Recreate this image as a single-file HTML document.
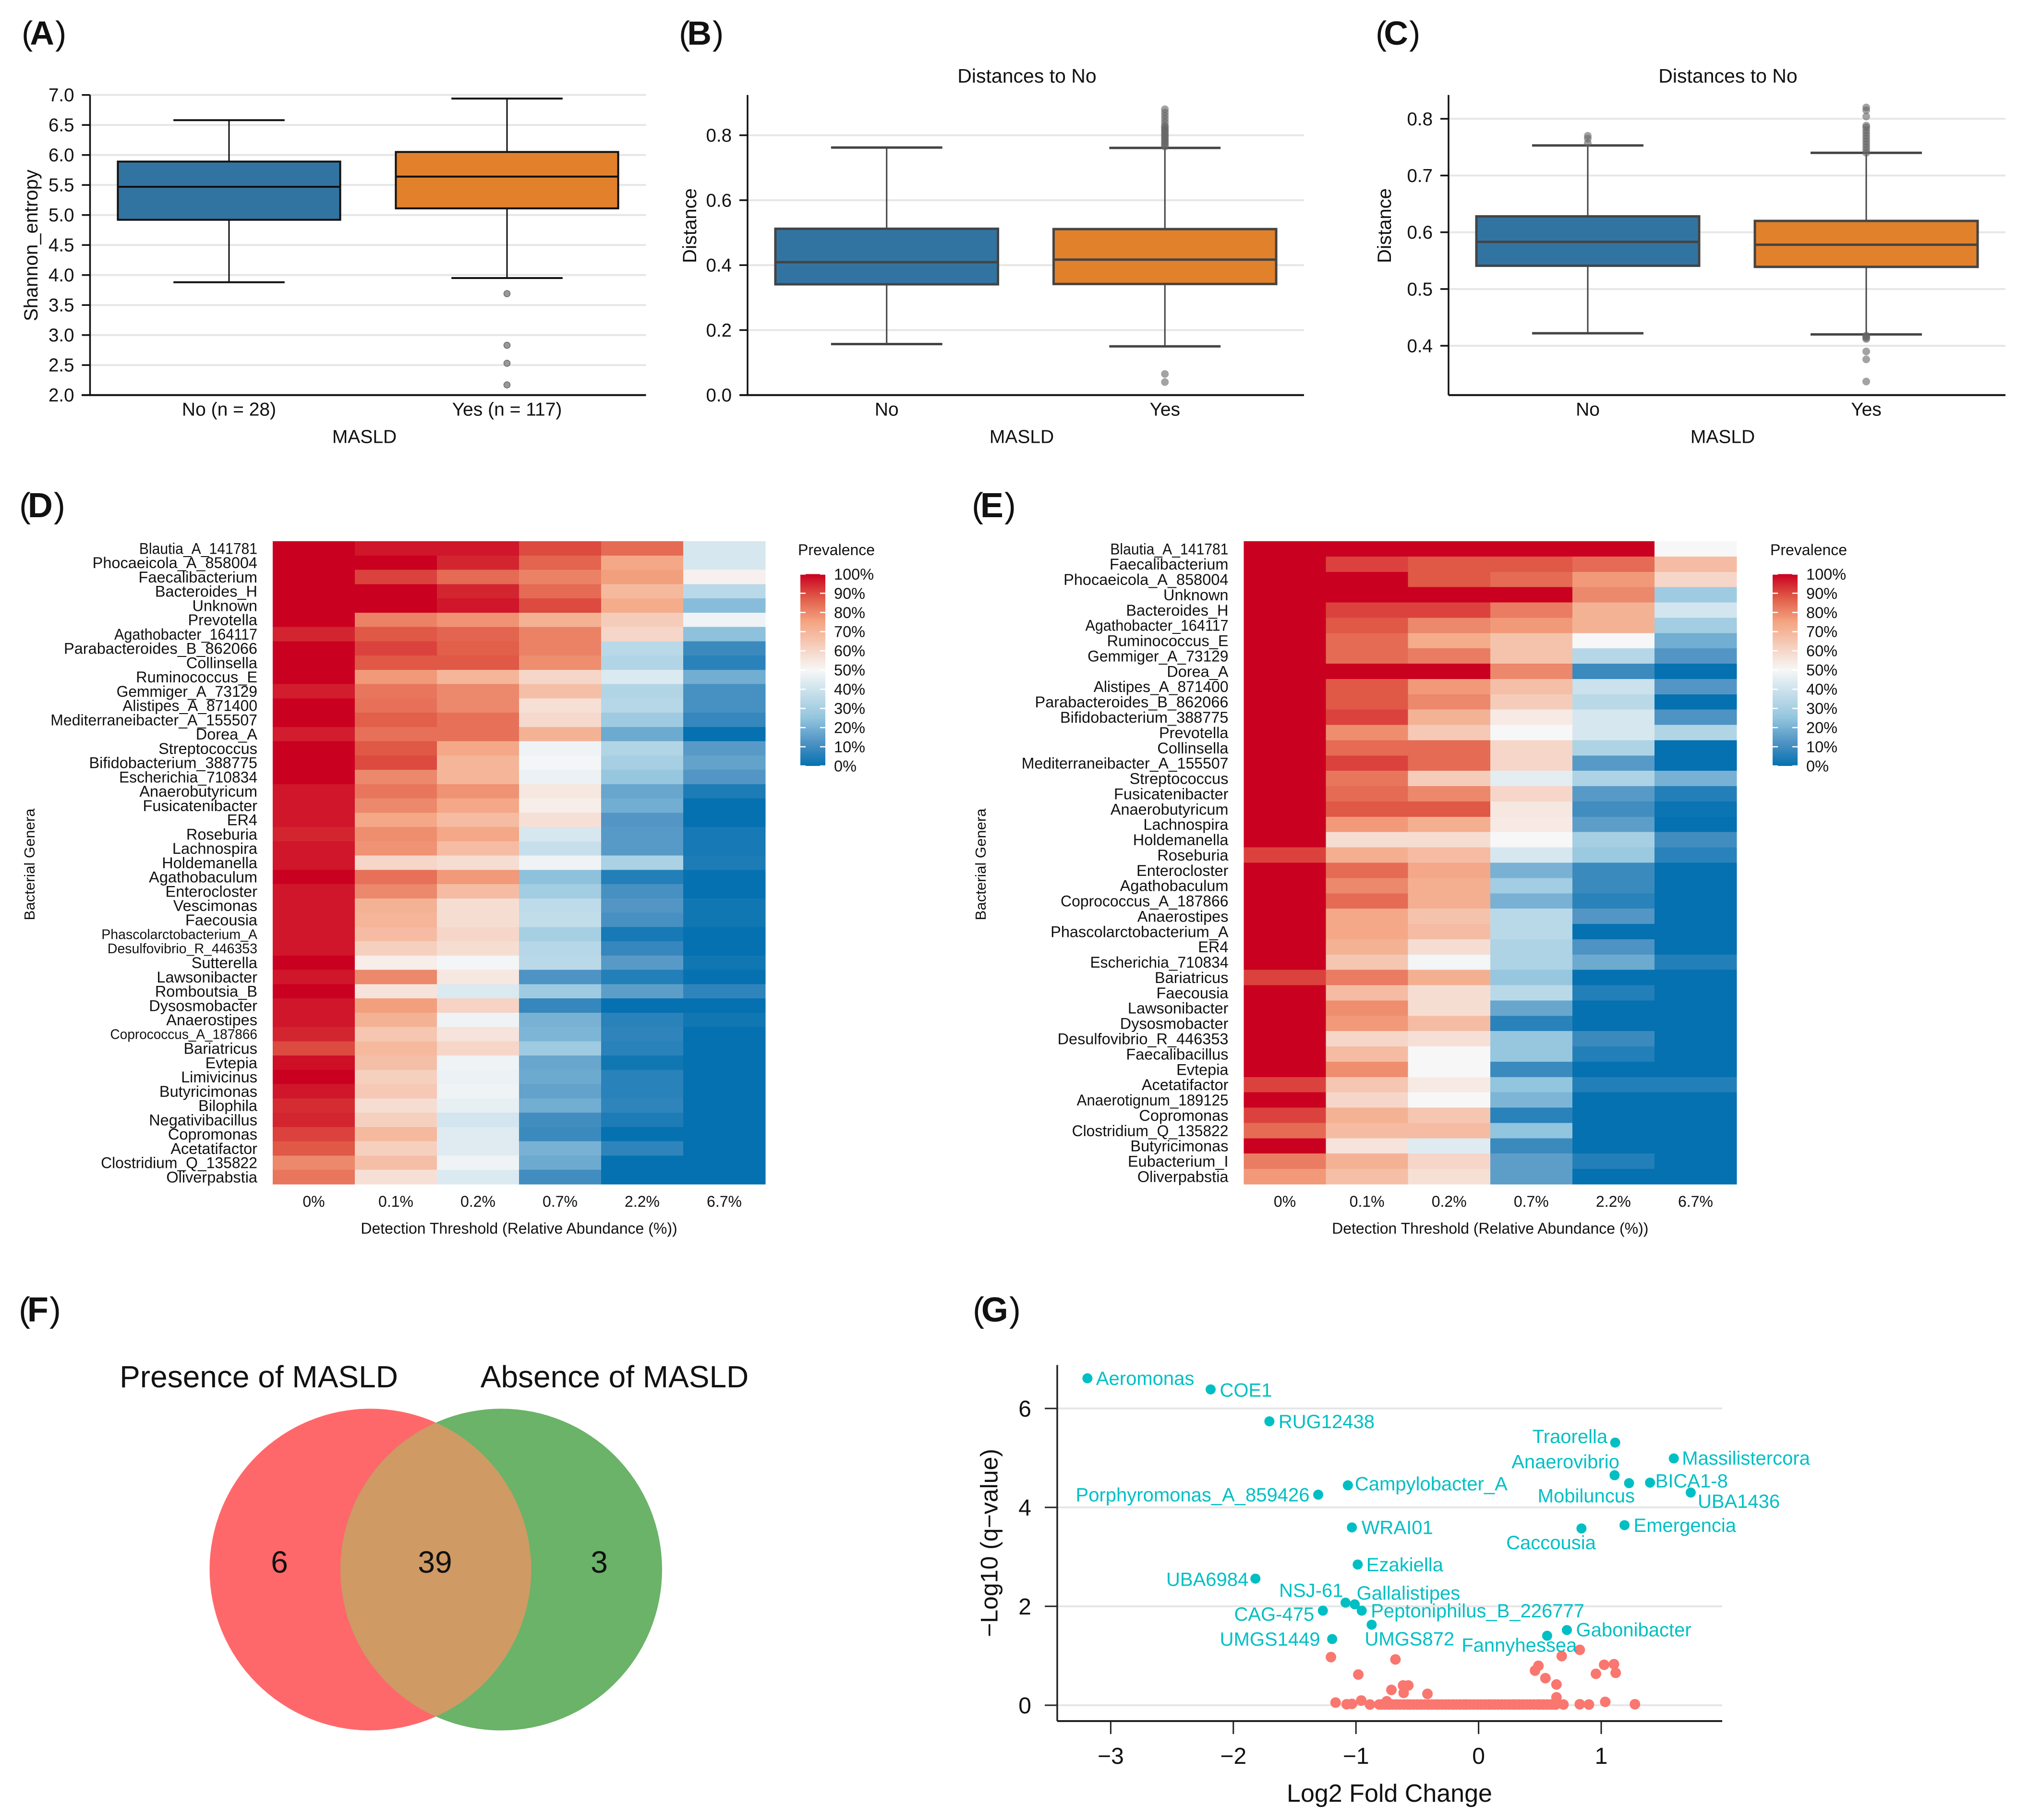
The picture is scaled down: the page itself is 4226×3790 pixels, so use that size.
<!DOCTYPE html>
<html lang="en">
<head>
<meta charset="utf-8">
<title>MASLD microbiome figure</title>
<style>
html,body{margin:0;padding:0;background:#fff;}
svg{display:block;}
text{font-family:"Liberation Sans",sans-serif;fill:#111;}
</style>
</head>
<body>
<svg id="figure" xmlns="http://www.w3.org/2000/svg" width="4226" height="3790" viewBox="0 0 4226 3790">
  <defs>
    <linearGradient id="prevalenceGradient" x1="0" y1="0" x2="0" y2="1">
      <stop offset="0" stop-color="#ca0020"/>
      <stop offset="0.125" stop-color="#e15c48"/>
      <stop offset="0.25" stop-color="#f4a582"/>
      <stop offset="0.5" stop-color="#f7f7f7"/>
      <stop offset="0.75" stop-color="#92c5de"/>
      <stop offset="0.875" stop-color="#5094c4"/>
      <stop offset="1" stop-color="#0571b0"/>
    </linearGradient>
  </defs>
  <rect width="4226" height="3790" fill="#fff"/>
  <g id="panels"></g>
  <g id="venn">
    <circle cx="771.5" cy="3268.5" r="335" fill="#ff686a"/>
    <circle cx="1044" cy="3268.5" r="335" fill="#6ab368"/>
    <path d="M907.75 2962.5A335 335 0 0 1 907.75 3574.5A335 335 0 0 1 907.75 2962.5Z" fill="#cf9a64"/>
    <text x="539" y="2889" font-size="64" text-anchor="middle">Presence of MASLD</text>
    <text x="1280" y="2889" font-size="64" text-anchor="middle">Absence of MASLD</text>
    <text x="582" y="3275" font-size="64" text-anchor="middle">6</text>
    <text x="906" y="3275" font-size="64" text-anchor="middle">39</text>
    <text x="1248" y="3275" font-size="64" text-anchor="middle">3</text>
  </g>
</svg>
<script>
/* ---------- Panel A data ---------- */
const panelACategories = ['No (n = 28)', 'Yes (n = 117)'];
const panelATicks = [2, 2.5, 3, 3.5, 4, 4.5, 5, 5.5, 6, 6.5, 7];
const panelAQ1 = [4.92, 5.11];
const panelAMedian = [5.47, 5.64];
const panelAQ3 = [5.89, 6.05];
const panelAWhiskerLow = [3.88, 3.95];
const panelAWhiskerHigh = [6.58, 6.94];
const panelAOutliers = [[], [3.69, 2.83, 2.53, 2.17]];

/* ---------- Panel B data ---------- */
const panelBCategories = ['No', 'Yes'];
const panelBTicks = [0, 0.2, 0.4, 0.6, 0.8];
const panelBQ1 = [0.341, 0.342];
const panelBMedian = [0.409, 0.417];
const panelBQ3 = [0.512, 0.511];
const panelBWhiskerLow = [0.157, 0.15];
const panelBWhiskerHigh = [0.762, 0.761];
const panelBOutliers = [[], [0.065, 0.04, 0.765, 0.77, 0.775, 0.78, 0.785, 0.79, 0.795, 0.8, 0.805, 0.81, 0.815, 0.82, 0.825, 0.83, 0.84, 0.85, 0.86, 0.87, 0.88]];

/* ---------- Panel C data ---------- */
const panelCCategories = ['No', 'Yes'];
const panelCTicks = [0.4, 0.5, 0.6, 0.7, 0.8];
const panelCQ1 = [0.541, 0.539];
const panelCMedian = [0.583, 0.578];
const panelCQ3 = [0.628, 0.62];
const panelCWhiskerLow = [0.422, 0.42];
const panelCWhiskerHigh = [0.753, 0.74];
const panelCOutliers = [[0.757, 0.765, 0.77], [0.82, 0.815, 0.804, 0.788, 0.785, 0.78, 0.775, 0.77, 0.765, 0.76, 0.755, 0.75, 0.745, 0.74, 0.418, 0.416, 0.414, 0.412, 0.39, 0.376, 0.337]];

/* ---------- Heatmap data ---------- */
const heatThresholds = ['0%', '0.1%', '0.2%', '0.7%', '2.2%', '6.7%'];
const legendTickValues = [100, 90, 80, 70, 60, 50, 40, 30, 20, 10, 0];
const heatDGenera = ['Blautia_A_141781','Phocaeicola_A_858004','Faecalibacterium','Bacteroides_H','Unknown','Prevotella','Agathobacter_164117','Parabacteroides_B_862066','Collinsella','Ruminococcus_E','Gemmiger_A_73129','Alistipes_A_871400','Mediterraneibacter_A_155507','Dorea_A','Streptococcus','Bifidobacterium_388775','Escherichia_710834','Anaerobutyricum','Fusicatenibacter','ER4','Roseburia','Lachnospira','Holdemanella','Agathobaculum','Enterocloster','Vescimonas','Faecousia','Phascolarctobacterium_A','Desulfovibrio_R_446353','Sutterella','Lawsonibacter','Romboutsia_B','Dysosmobacter','Anaerostipes','Coprococcus_A_187866','Bariatricus','Evtepia','Limivicinus','Butyricimonas','Bilophila','Negativibacillus','Copromonas','Acetatifactor','Clostridium_Q_135822','Oliverpabstia'];
const heatDValues = [
[100,97,97,90,85,42],[100,100,95,86,74,42],[100,91,85,81,76,52],[100,100,95,85,69,35],[100,100,97,90,73,23],
[100,81,78,71,63,48],[95,88,86,81,60,24],[100,91,87,81,35,9],[100,88,88,79,33,6],[100,77,70,60,43,19],
[96,83,80,67,33,11],[100,84,80,57,34,11],[100,87,84,59,28,8],[96,84,84,71,18,0],[100,88,74,48,33,14],
[100,90,70,49,30,16],[100,80,70,47,26,13],[97,83,78,55,17,4],[97,80,74,53,19,0],[97,74,68,57,13,0],
[95,79,74,42,14,3],[97,78,68,38,14,3],[97,60,58,48,31,4],[100,84,77,24,5,0],[97,80,68,29,11,0],
[97,71,58,36,13,2],[97,70,58,37,11,2],[97,68,60,30,3,0],[97,62,58,34,8,0],[100,53,49,35,14,2],
[97,80,55,12,5,0],[100,56,43,28,15,7],[97,76,61,8,0,0],[97,71,48,20,6,2],[95,65,56,21,7,0],
[90,69,60,28,6,0],[98,67,48,17,2,0],[100,62,47,18,6,0],[97,64,48,16,6,0],[94,58,46,19,7,0],
[95,62,41,10,4,0],[91,69,44,9,0,0],[88,62,44,20,7,0],[80,67,48,18,0,0],[83,57,43,10,0,0]
];
const heatEGenera = ['Blautia_A_141781','Faecalibacterium','Phocaeicola_A_858004','Unknown','Bacteroides_H','Agathobacter_164117','Ruminococcus_E','Gemmiger_A_73129','Dorea_A','Alistipes_A_871400','Parabacteroides_B_862066','Bifidobacterium_388775','Prevotella','Collinsella','Mediterraneibacter_A_155507','Streptococcus','Fusicatenibacter','Anaerobutyricum','Lachnospira','Holdemanella','Roseburia','Enterocloster','Agathobaculum','Coprococcus_A_187866','Anaerostipes','Phascolarctobacterium_A','ER4','Escherichia_710834','Bariatricus','Faecousia','Lawsonibacter','Dysosmobacter','Desulfovibrio_R_446353','Faecalibacillus','Evtepia','Acetatifactor','Anaerotignum_189125','Copromonas','Clostridium_Q_135822','Butyricimonas','Eubacterium_I','Oliverpabstia'];
const heatEValues = [
[100,100,100,100,100,50],[100,91,88,88,85,68],[100,100,88,85,77,60],[100,100,100,100,80,28],[100,91,91,82,71,41],
[100,88,80,77,71,29],[100,85,73,66,50,19],[100,85,82,66,34,13],[100,100,100,80,9,0],[100,88,77,67,39,13],
[100,88,80,63,35,0],[100,91,71,54,42,12],[100,79,64,50,42,33],[100,85,85,60,32,0],[100,91,85,60,14,0],
[100,83,63,45,32,20],[100,85,80,60,14,5],[100,88,88,55,10,1],[100,77,72,54,15,0],[100,58,58,50,30,10],
[91,72,68,42,27,6],[100,85,74,20,9,0],[100,80,72,29,9,0],[100,85,72,20,6,0],[100,74,66,35,13,0],
[100,74,68,35,0,0],[100,71,58,32,12,0],[100,65,49,32,18,5],[91,82,72,26,0,0],[100,68,58,35,5,0],
[100,79,58,17,0,0],[100,77,68,6,0,0],[100,60,57,26,9,0],[100,68,50,26,5,0],[100,79,50,9,0,0],
[91,65,54,25,5,5],[100,60,50,21,0,0],[91,71,65,6,0,0],[85,68,68,25,0,0],[100,56,44,9,0,0],
[82,71,60,15,5,0],[77,67,57,15,0,0]
];

/* ---------- Volcano data ---------- */
const volcanoXTicks = [-3, -2, -1, 0, 1];
const volcanoYTicks = [0, 2, 4, 6];
const sigNames = ['Aeromonas','COE1','RUG12438','Traorella','Massilistercora','Anaerovibrio','Mobiluncus','BICA1-8','UBA1436','Campylobacter_A','Porphyromonas_A_859426','WRAI01','Caccousia','Emergencia','Ezakiella','UBA6984','NSJ-61','Gallalistipes','Peptoniphilus_B_226777','CAG-475','UMGS872','UMGS1449','Fannyhessea','Gabonibacter'];
const sigFoldChange = [-3.19,-2.185,-1.706,1.114,1.592,1.109,1.227,1.398,1.73,-1.066,-1.308,-1.033,0.839,1.19,-0.986,-1.82,-1.085,-1.01,-0.953,-1.27,-0.872,-1.194,0.559,0.72];
const sigLogQ = [6.61,6.385,5.74,5.31,4.99,4.65,4.49,4.5,4.3,4.446,4.257,3.595,3.574,3.64,2.845,2.56,2.074,2.04,1.912,1.912,1.628,1.338,1.405,1.52];
const nsFoldChange = [-1.204,-0.678,-0.981,-0.711,-0.616,-0.573,-0.611,-0.417,0.678,0.825,0.488,0.46,0.545,0.635,0.957,1.024,1.104,1.118,0.635,-1.166,-1.076,-1.033,-0.957,-0.886,-0.749,0.692,0.825,0.9,1.033,1.275,
-0.81,-0.79,-0.76,-0.73,-0.7,-0.67,-0.64,-0.61,-0.58,-0.56,-0.53,-0.5,-0.47,-0.44,-0.41,-0.38,-0.35,-0.33,-0.3,-0.27,-0.24,-0.21,-0.18,-0.15,-0.12,-0.1,-0.07,-0.04,-0.01,0.02,0.05,0.08,0.1,0.13,0.16,0.19,0.22,0.25,0.28,0.3,0.33,0.36,0.39,0.42,0.45,0.48,0.5,0.53,0.56,0.59,0.61,0.63];
const nsLogQ = [0.973,0.926,0.62,0.31,0.4,0.4,0.25,0.23,0.993,1.12,0.797,0.7,0.547,0.42,0.635,0.818,0.83,0.655,0.16,0.054,0.02,0.027,0.095,0.014,0.08,0.014,0.02,0.014,0.068,0.02,
0.015,0.015,0.015,0.015,0.015,0.015,0.015,0.015,0.015,0.015,0.015,0.015,0.015,0.015,0.015,0.015,0.015,0.015,0.015,0.015,0.015,0.015,0.015,0.015,0.015,0.015,0.015,0.015,0.015,0.015,0.015,0.015,0.015,0.015,0.015,0.015,0.015,0.015,0.015,0.015,0.015,0.015,0.015,0.015,0.015,0.015,0.015,0.015,0.015,0.015,0.015,0.015];

/* ---------- Helpers ---------- */
const NS = 'http://www.w3.org/2000/svg';
const root = document.getElementById('panels');

function make(parent, tag, props) {
  const el = document.createElementNS(NS, tag);
  for (const key in props) el.setAttribute(key, props[key]);
  parent.appendChild(el);
  return el;
}
function makeText(parent, content, x, y, size, anchor) {
  const el = make(parent, 'text', {x: x, y: y + size * 0.35, 'font-size': size, 'text-anchor': anchor || 'middle'});
  el.textContent = content;
  return el;
}
function makeVerticalText(parent, content, x, y, size) {
  const el = make(parent, 'text', {transform: 'translate(' + x + ',' + y + ') rotate(-90)', y: size * 0.35, 'font-size': size, 'text-anchor': 'middle'});
  el.textContent = content;
  return el;
}
function makeLine(parent, x1, y1, x2, y2, color, width) {
  return make(parent, 'line', {x1: x1, y1: y1, x2: x2, y2: y2, stroke: color, 'stroke-width': width});
}
function linear(d0, d1, r0, r1) {
  return function (v) { return r0 + (v - d0) / (d1 - d0) * (r1 - r0); };
}
function panelLetter(letter, x, y, size) {
  const el = make(root, 'text', {x: x, y: y, 'font-size': size});
  const a = make(el, 'tspan', {});
  a.textContent = '(';
  const b = make(el, 'tspan', {'font-weight': 'bold', dx: -0.085 * size});
  b.textContent = letter;
  const c = make(el, 'tspan', {dx: 0.03 * size});
  c.textContent = ')';
  
  
}

/* heatmap colour scale */
const rampPoints = [0, 12.5, 25, 50, 75, 87.5, 100];
const rampColors = [[5,113,176],[80,148,196],[146,197,222],[247,247,247],[244,165,130],[225,92,72],[202,0,32]];
function prevalenceColor(v) {
  const val = Math.max(0, Math.min(100, v));
  let i = 0;
  while (i < rampPoints.length - 2 && val > rampPoints[i + 1]) i++;
  const f = (val - rampPoints[i]) / (rampPoints[i + 1] - rampPoints[i]);
  const c = [0, 1, 2].map(function (k) { return Math.round(rampColors[i][k] + (rampColors[i + 1][k] - rampColors[i][k]) * f); });
  return 'rgb(' + c.join(',') + ')';
}

/* ---------- Box panels ---------- */
function drawBoxPanel(o) {
  const g = make(root, 'g', {});
  
  
  const y = linear(o.domain[0], o.domain[1], o.bottom, o.top);
  const band = (o.right - o.left) / o.categories.length;
  const fills = ['#3274a1', '#e1812c'];

  o.ticks.forEach(function (t) {
    const grid = makeLine(g, o.left, y(t), o.right, y(t), '#e6e6e6', 4);
    
    
  });
  const spine = makeLine(g, o.left, o.top, o.left, o.bottom, '#111', 3.5);
  
  
  const base = makeLine(g, o.baseStart, o.bottom, o.right, o.bottom, '#111', 4);
  
  

  o.ticks.forEach(function (t) {
    const mark = makeLine(g, o.left - 17, y(t), o.left, y(t), '#111', 3.5);
    
    
    const lab = makeText(g, t.toFixed(1), o.left - 33, y(t), 38.5, 'end');
    
    
  });

  o.categories.forEach(function (cat, i) {
    const cx = o.left + band * (i + 0.5);
    const boxW = band * 0.8;
    const capW = band * 0.4;
    const whiskerHigh = makeLine(g, cx, y(o.q3[i]), cx, y(o.high[i]), o.stroke, o.whiskerWidth);
    
    
    const whiskerLow = makeLine(g, cx, y(o.q1[i]), cx, y(o.low[i]), o.stroke, o.whiskerWidth);
    
    
    const capHigh = makeLine(g, cx - capW / 2, y(o.high[i]), cx + capW / 2, y(o.high[i]), o.stroke, o.boxWidth);
    
    
    const capLow = makeLine(g, cx - capW / 2, y(o.low[i]), cx + capW / 2, y(o.low[i]), o.stroke, o.boxWidth);
    
    
    const box = make(g, 'rect', {x: cx - boxW / 2, y: y(o.q3[i]), width: boxW, height: y(o.q1[i]) - y(o.q3[i]), fill: fills[i], stroke: o.stroke, 'stroke-width': o.boxWidth});
    
    
    const med = makeLine(g, cx - boxW / 2, y(o.median[i]), cx + boxW / 2, y(o.median[i]), o.stroke, o.boxWidth);
    
    
    o.outliers[i].forEach(function (v) {
      const dot = make(g, 'circle', {cx: cx, cy: y(v), r: o.fliers.r, fill: o.fliers.fill, 'fill-opacity': o.fliers.opacity, stroke: o.fliers.stroke, 'stroke-width': o.fliers.strokeWidth});
      
      
    });
    const lab = makeText(g, cat, cx, 852, 39);
    
    
  });

  const xt = makeText(g, 'MASLD', o.xTitleX, 909, 39);
  
  
  const yt = makeVerticalText(g, o.yTitle, o.yTitleX, o.yTitleY, 40);
  
  
  if (o.title) {
    const title = makeText(g, o.title, o.titleX, 157.5, 41);
    
    
  }
}

const flierA = {r: 6.5, fill: '#999', opacity: 1, stroke: '#666', strokeWidth: 1.5};
const flierBC = {r: 8, fill: '#666', opacity: 0.6, stroke: 'none', strokeWidth: 0};

drawBoxPanel({id: 'panel-a', left: 187.5, right: 1345.5, top: 197.7, bottom: 822.7, baseStart: 170, domain: [2, 7],
  categories: panelACategories, ticks: panelATicks, q1: panelAQ1, median: panelAMedian, q3: panelAQ3, low: panelAWhiskerLow, high: panelAWhiskerHigh, outliers: panelAOutliers,
  stroke: '#111', whiskerWidth: 3, boxWidth: 4, fliers: flierA, xTitleX: 759, yTitle: 'Shannon_entropy', yTitleX: 64, yTitleY: 511});
drawBoxPanel({id: 'panel-b', left: 1557, right: 2716, top: 197.7, bottom: 822.7, baseStart: 1541, domain: [0, 0.924],
  categories: panelBCategories, ticks: panelBTicks, q1: panelBQ1, median: panelBMedian, q3: panelBQ3, low: panelBWhiskerLow, high: panelBWhiskerHigh, outliers: panelBOutliers,
  stroke: '#444', whiskerWidth: 3, boxWidth: 5, fliers: flierBC, xTitleX: 2128, yTitle: 'Distance', yTitleX: 1436, yTitleY: 470, title: 'Distances to No', titleX: 2139});
drawBoxPanel({id: 'panel-c', left: 3017, right: 4177, top: 197.7, bottom: 822.7, baseStart: 3017, domain: [0.3131, 0.842],
  categories: panelCCategories, ticks: panelCTicks, q1: panelCQ1, median: panelCMedian, q3: panelCQ3, low: panelCWhiskerLow, high: panelCWhiskerHigh, outliers: panelCOutliers,
  stroke: '#444', whiskerWidth: 3, boxWidth: 5, fliers: flierBC, xTitleX: 3588, yTitle: 'Distance', yTitleX: 2883, yTitleY: 470, title: 'Distances to No', titleX: 3599});

/* ---------- Heatmaps ---------- */
function drawHeatmap(o) {
  const g = make(root, 'g', {});
  
  
  const colW = (o.right - o.left) / o.thresholds.length;
  const rowH = (o.bottom - o.top) / o.genera.length;

  o.genera.forEach(function (name, r) {
    o.values[r].forEach(function (v, c) {
      const cell = make(g, 'rect', {x: o.left + c * colW, y: o.top + r * rowH, width: colW + 0.5, height: rowH + 0.5, fill: prevalenceColor(v), 'shape-rendering': 'crispEdges'});
      
      
    });
    const size = o.smallLabels.indexOf(name) >= 0 ? 28.5 : 32.5;
    const lab = makeText(g, name, o.left - 32, o.top + (r + 0.5) * rowH, size, 'end');
    
    
    const ones = (name.replace(/[^0-9]/g, '').match(/1/g) || []).length;
    if (ones > 0) {
      lab.setAttribute('textLength', lab.getComputedTextLength() - ones * 0.2 * size);
      lab.setAttribute('lengthAdjust', 'spacingAndGlyphs');
    }
  });

  o.thresholds.forEach(function (t, c) {
    const lab = makeText(g, t, o.left + (c + 0.5) * colW, 2502, 32);
    
    
  });
  const xt = makeText(g, 'Detection Threshold (Relative Abundance (%))', (o.left + o.right) / 2, 2558, 32);
  
  
  const yt = makeVerticalText(g, 'Bacterial Genera', o.yTitleX, 1800, 31);
  
  

  const lt = makeText(g, 'Prevalence', o.legendX - 5, 1145, 32, 'start');
  
  
  const bar = make(g, 'rect', {x: o.legendX, y: 1195.5, width: 52, height: 399.5, fill: 'url(#prevalenceGradient)'});
  
  
  const ly = linear(0, 100, 1595, 1195.5);
  legendTickValues.forEach(function (v) {
    const t1 = makeLine(g, o.legendX, ly(v), o.legendX + 11, ly(v), '#fff', 2.5);
    
    
    const t2 = makeLine(g, o.legendX + 41, ly(v), o.legendX + 52, ly(v), '#fff', 2.5);
    
    
    const tl = makeText(g, v + '%', o.legendX + 70, ly(v), 32.5, 'start');
    
    
  });
}

drawHeatmap({id: 'panel-d', left: 568, right: 1594, top: 1127, bottom: 2466, genera: heatDGenera, values: heatDValues, thresholds: heatThresholds,
  smallLabels: ['Phascolarctobacterium_A', 'Desulfovibrio_R_446353', 'Coprococcus_A_187866'], yTitleX: 61, legendX: 1667});
drawHeatmap({id: 'panel-e', left: 2590.5, right: 3617, top: 1127, bottom: 2466, genera: heatEGenera, values: heatEValues, thresholds: heatThresholds,
  smallLabels: [], yTitleX: 2042, legendX: 3692});

/* ---------- Volcano ---------- */
function drawVolcano() {
  const g = make(root, 'g', {});
  
  
  const x = linear(0, 1, 3079.6, 3335);
  const y = linear(0, 6, 3551, 2933);
  const left = 2202, right = 3587, top = 2842.5, bottom = 3584;
  const minus = function (v) { return String(v).replace('-', '\u2212'); };

  volcanoYTicks.forEach(function (t) {
    const grid = makeLine(g, left, y(t), right, y(t), '#e6e6e6', 4);
    
    
  });
  const spine = makeLine(g, left, top, left, bottom, '#222', 3.5);
  
  
  const base = makeLine(g, left, bottom, right, bottom, '#222', 4);
  
  

  volcanoYTicks.forEach(function (t) {
    const mark = makeLine(g, left - 26, y(t), left, y(t), '#222', 3);
    
    
    const lab = makeText(g, minus(t), left - 54, y(t), 48, 'end');
    
    
  });
  volcanoXTicks.forEach(function (t) {
    const mark = makeLine(g, x(t), bottom, x(t), bottom + 27, '#222', 3);
    
    
    const lab = makeText(g, minus(t), x(t), 3656, 48);
    
    
  });

  nsFoldChange.forEach(function (v, i) {
    const dot = make(g, 'circle', {cx: x(v), cy: y(nsLogQ[i]), r: 11, fill: '#f9776f'});
    
    
  });

  const placement = {
    'Aeromonas': ['start', 18, 0], 'COE1': ['start', 19, 1], 'RUG12438': ['start', 19, 0], 'Traorella': ['end', -16, -13],
    'Massilistercora': ['start', 17, -1], 'Anaerovibrio': ['end', 10, -28.5], 'Mobiluncus': ['end', 12, 26], 'BICA1-8': ['start', 11, -4],
    'UBA1436': ['start', 14.5, 18], 'Campylobacter_A': ['start', 14.5, -3.5], 'Porphyromonas_A_859426': ['end', -18, 0], 'WRAI01': ['start', 20, 0],
    'Caccousia': ['end', 30, 29], 'Emergencia': ['start', 19, 0], 'Ezakiella': ['start', 18, 0], 'UBA6984': ['end', -14.5, 1],
    'NSJ-61': ['end', -5, -26], 'Gallalistipes': ['start', 4, -24], 'Peptoniphilus_B_226777': ['start', 19, 0], 'CAG-475': ['end', -18, 7],
    'UMGS872': ['start', -14.5, 29], 'UMGS1449': ['end', -25, 0], 'Fannyhessea': ['end', 62, 19], 'Gabonibacter': ['start', 19, -1]
  };
  sigNames.forEach(function (name, i) {
    const px = x(sigFoldChange[i]);
    const py = y(sigLogQ[i]);
    const dot = make(g, 'circle', {cx: px, cy: py, r: 10.5, fill: '#00bfc4'});
    
    
    const p = placement[name];
    const lab = makeText(g, name, px + p[1], py + p[2], 40, p[0]);
    lab.style.fill = '#00bfc4';
    
    
  });

  const xt = makeText(g, 'Log2 Fold Change', 2894, 3734, 52);
  
  
  const yt = makeVerticalText(g, '\u2212Log10 (q\u2212value)', 2060, 3213, 50);
  
  
}
drawVolcano();

/* ---------- Panel letters ---------- */
panelLetter('A', 45, 93, 70);
panelLetter('B', 1414, 93, 70);
panelLetter('C', 2865, 93, 70);
panelLetter('D', 40, 1077, 72);
panelLetter('E', 2024, 1077, 72);
panelLetter('F', 39, 2752, 72);
panelLetter('G', 2026, 2752, 72);
</script>
</body>
</html>
